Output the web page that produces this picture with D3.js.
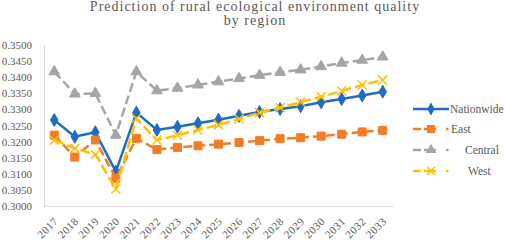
<!DOCTYPE html>
<html>
<head>
<meta charset="utf-8">
<script src="https://cdn.jsdelivr.net/npm/d3@7/dist/d3.min.js"></script>
<style>
  body { margin: 0; background: #fff; }
  svg text { font-family: "Liberation Serif", "DejaVu Serif", serif !important; fill: #595959; }
</style>
</head>
<body>
<div id="chart"></div>
<script>
const years = ['2017', '2018', '2019', '2020', '2021', '2022', '2023', '2024', '2025',
    '2026', '2027', '2028', '2029', '2030', '2031', '2032', '2033'];
const nationwide = [0.3267, 0.3215, 0.3229, 0.3107, 0.3290, 0.3236, 0.3246, 0.3257, 0.3268,
    0.3280, 0.3292, 0.3301, 0.3310, 0.3322, 0.3332, 0.3343, 0.3355];
const east = [0.3220, 0.3152, 0.3205, 0.3086, 0.3210, 0.3175, 0.3182, 0.3187, 0.3192,
    0.3197, 0.3203, 0.3209, 0.3212, 0.3217, 0.3223, 0.3230, 0.3235];
const central = [0.3417, 0.3348, 0.3350, 0.3220, 0.3417, 0.3358, 0.3366, 0.3376, 0.3386,
    0.3396, 0.3406, 0.3415, 0.3423, 0.3433, 0.3444, 0.3453, 0.3463];
const west = [0.3205, 0.3179, 0.3160, 0.3053, 0.3272, 0.3205, 0.3220, 0.3236, 0.3252,
    0.3270, 0.3290, 0.3305, 0.3323, 0.3339, 0.3357, 0.3376, 0.3391];
const yTicks = [0.3000, 0.3050, 0.3100, 0.3150, 0.3200, 0.3250, 0.3300, 0.3350, 0.3400, 0.3450, 0.3500];
const titleLines = ['Prediction of rural ecological environment quality', 'by region'];

const series = [
    { name: 'Nationwide', values: nationwide, color: '#1f6cc5', dash: null, symbol: d3.symbolDiamond, size: 48 },
    { name: 'East', values: east, color: '#f47c26', dash: '9,4', symbol: d3.symbolSquare, size: 64 },
    { name: 'Central', values: central, color: '#a5a5a5', dash: '9,4', symbol: d3.symbolTriangle, size: 50 },
    { name: 'West', values: west, color: '#ffc000', dash: '10,4', symbol: 'x', size: 0 }
];

const width = 505, height = 240;
const plot = { left: 44, right: 393, top: 45, bottom: 206 };
const serif = '"Liberation Serif", "DejaVu Serif", serif';

const svg = d3.select('#chart').append('svg')
    .attr('width', width)
    .attr('height', height)
    .style('font-family', serif);

// title
svg.append('g').selectAll('text')
    .data(titleLines)
    .join('text')
    .attr('x', 255)
    .attr('y', (d, i) => 11 + i * 14)
    .attr('text-anchor', 'middle')
    .style('font-size', '14px')
    .style('letter-spacing', '1px')
    .text(d => d);

const x = d3.scalePoint()
    .domain(years)
    .range([plot.left, plot.right])
    .padding(0.5);

const y = d3.scaleLinear()
    .domain([0.30, 0.35])
    .range([plot.bottom, plot.top]);

// axes
const yAxis = svg.append('g')
    .attr('transform', `translate(${plot.left},0)`)
    .call(d3.axisLeft(y).tickValues(yTicks).tickFormat(d3.format('.4f')).tickSize(0).tickPadding(12));
yAxis.attr('font-family', serif);
yAxis.select('.domain').attr('stroke', '#d9d9d9');
yAxis.selectAll('text').style('font-size', '11px').style('font-family', serif).attr('x', -12);

const xAxis = svg.append('g')
    .attr('transform', `translate(0,${plot.bottom})`)
    .call(d3.axisBottom(x).tickSize(0).tickPadding(0));
xAxis.attr('font-family', serif);
xAxis.select('.domain').attr('stroke', '#d9d9d9');
xAxis.selectAll('text')
    .style('font-size', '11px')
    .style('font-family', serif)
    .style('letter-spacing', '0.5px')
    .attr('text-anchor', 'end')
    .attr('dy', null)
    .attr('y', 0)
    .attr('transform', 'translate(4,16) rotate(-45)');

// lines and markers
const line = d3.line()
    .x((d, i) => x(years[i]))
    .y(d => y(d));

const xMark = (cx, cy, r) =>
    `M${cx - r},${cy - r}L${cx + r},${cy + r}M${cx - r},${cy + r}L${cx + r},${cy - r}`;

series.forEach(s => {
    svg.append('path')
        .datum(s.values)
        .attr('fill', 'none')
        .attr('stroke', s.color)
        .attr('stroke-width', 2.5)
        .attr('stroke-dasharray', s.dash)
        .attr('d', line);

    const marks = svg.append('g').selectAll('path')
        .data(s.values)
        .join('path');
    if (s.symbol === 'x') {
        marks.attr('d', (d, i) => xMark(x(years[i]), y(d), 4.5))
            .attr('fill', 'none')
            .attr('stroke', s.color)
            .attr('stroke-width', 1.5);
    } else {
        marks.attr('d', d3.symbol().type(s.symbol).size(s.size))
            .attr('transform', (d, i) => `translate(${x(years[i])},${y(d)})`)
            .attr('fill', s.color)
            .attr('stroke', s.color)
            .attr('stroke-width', 1);
    }
});

// legend
const legendRows = [109, 129, 150, 171];
const legendTextX = [450, 451, 465, 468];
const legend = svg.append('g');
series.forEach((s, i) => {
    const row = legend.append('g').attr('transform', `translate(0,${legendRows[i]})`);
    if (s.dash) {
        row.append('line').attr('x1', 413).attr('x2', 421).attr('stroke', s.color).attr('stroke-width', 2.5);
        row.append('line').attr('x1', 424).attr('x2', 436).attr('stroke', s.color).attr('stroke-width', 2.5);
        row.append('line').attr('x1', 446).attr('x2', 448.5).attr('stroke', s.color).attr('stroke-width', 2.5);
    } else {
        row.append('line').attr('x1', 413).attr('x2', 449).attr('stroke', s.color).attr('stroke-width', 2.5);
    }
    if (s.symbol === 'x') {
        row.append('path')
            .attr('d', xMark(431, 0, 4))
            .attr('fill', 'none')
            .attr('stroke', s.color).attr('stroke-width', 1.5);
    } else {
        row.append('path')
            .attr('d', d3.symbol().type(s.symbol).size(s.size))
            .attr('transform', 'translate(431,0)')
            .attr('fill', s.color);
    }
    row.append('text')
        .attr('x', legendTextX[i])
        .attr('dy', '0.35em')
        .style('font-size', '11.5px')
        .style('font-family', serif)
        .text(s.name);
});
</script>
</body>
</html>
